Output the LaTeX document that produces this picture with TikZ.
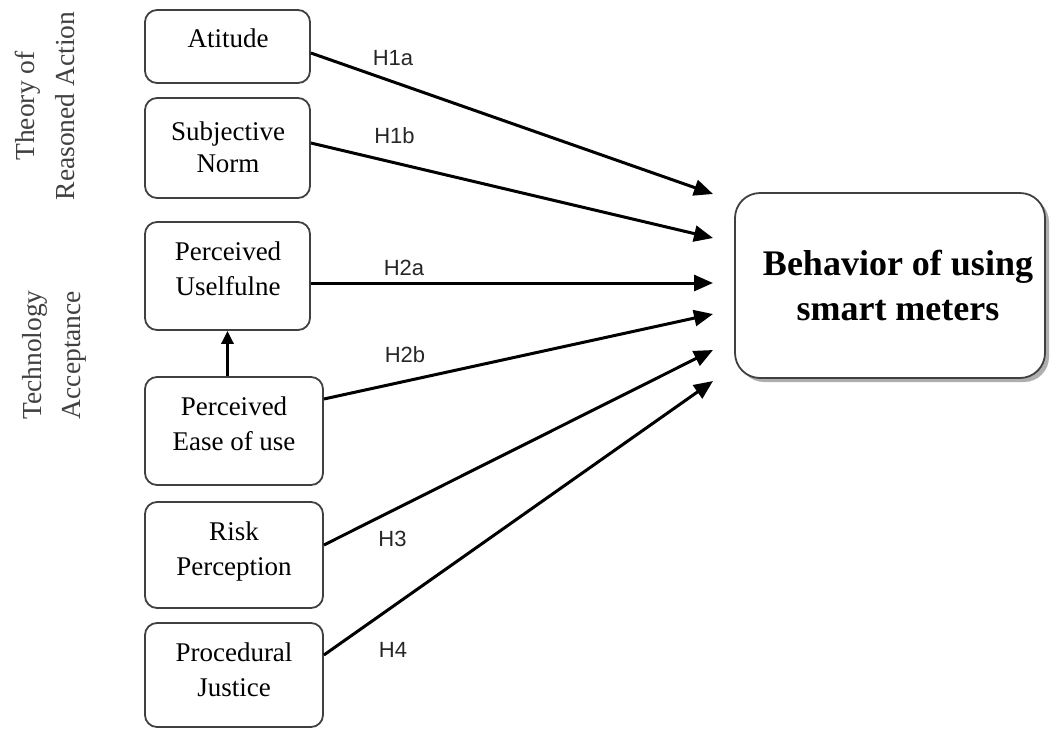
\documentclass[tikz,border=0pt]{standalone}
\usepackage{fontspec}
\setmainfont{Liberation Serif}
\newfontfamily\hsans{Liberation Sans}
\usetikzlibrary{arrows.meta,shadows}
\begin{document}
\begin{tikzpicture}[x=1pt,y=-1pt,
  box/.style={draw=black!75, line width=1.8pt, rounded corners=12pt, fill=white, inner sep=0pt},
  txt/.style={align=center, inner sep=0pt, font=\fontsize{27}{35}\selectfont},
  sidetxt/.style={align=center, inner sep=0pt, rotate=90, text=black!75, font=\fontsize{27.5}{40}\selectfont},
  hyp/.style={inner sep=0pt, text=black!85, font=\hsans\fontsize{22}{26}\selectfont},
  arr/.style={line width=3pt, -{Triangle[length=19pt,width=16pt]}},
  arrup/.style={line width=3pt, -{Triangle[length=13pt,width=12pt]}},
]
\useasboundingbox (0,0) rectangle (1050,729);

% left boxes
\node[box, minimum width=165pt, minimum height=73pt]  (att)  at (227.5,46.5) {};
\node[box, minimum width=165pt, minimum height=100pt] (sn)   at (227.5,148) {};
\node[box, minimum width=165pt, minimum height=108pt] (pu)   at (227.5,276) {};
\node[box, minimum width=178pt, minimum height=108pt] (peou) at (234,431) {};
\node[box, minimum width=178pt, minimum height=106pt] (rp)   at (234,555) {};
\node[box, minimum width=178pt, minimum height=104pt] (pj)   at (234,675) {};

\node[txt] (attT)  at (228,38) {Atitude};
\node[txt, font=\fontsize{27}{32}\selectfont] (snT) at (228,147) {Subjective\\Norm};
\node[txt] (puT)   at (228,269) {Perceived\\Uselfulne};
\node[txt] (peouT) at (234,424) {Perceived\\Ease of use};
\node[txt] (rpT)   at (234,551) {Risk\\Perception};
\node[txt] (pjT)   at (234,670) {Procedural\\Justice};

% target box
\node[box, rounded corners=25pt, minimum width=310pt, minimum height=185pt,
      drop shadow={shadow xshift=4pt, shadow yshift=-4pt, fill=black!45, opacity=0.7}]
      (beh) at (890,285.5) {};
\node[txt, font=\bfseries\fontsize{36}{45}\selectfont] (behT) at (898,285.5) {Behavior of using\\smart meters};

% side labels
\node[sidetxt] (tra) at (44.5,106) {Theory of\\Reasoned Action};
\node[sidetxt, font=\fontsize{27.5}{39}\selectfont] (tam) at (54.5,355) {Technology\\Acceptance};

% arrow ends
\coordinate (t1) at (713,194);
\coordinate (t2) at (713,238);
\coordinate (t3) at (713,283);
\coordinate (t4) at (713,314);
\coordinate (t5) at (713,350);
\coordinate (t6) at (713,381);

\draw[arr] ([yshift=-6.5pt]att.east) -- (t1);
\draw[arr] ([yshift=5pt]sn.east) -- (t2);
\draw[arr] ([yshift=-7pt]pu.east) -- (t3);
\draw[arr] ([yshift=32pt]peou.east) -- (t4);
\draw[arr] ([yshift=10pt]rp.east) -- (t5);
\draw[arr] ([yshift=20pt]pj.east) -- (t6);
\draw[arrup] (peou.north -| pu.south) -- (pu.south);

% hypothesis labels
\node[hyp] (h1a) at (393,58.5) {H1a};
\node[hyp] (h1b) at (394.5,136) {H1b};
\node[hyp] (h2a) at (404,267.5) {H2a};
\node[hyp] (h2b) at (405,354.5) {H2b};
\node[hyp] (h3)  at (392.5,538.5) {H3};
\node[hyp] (h4)  at (393,649.5) {H4};
\end{tikzpicture}
\end{document}
